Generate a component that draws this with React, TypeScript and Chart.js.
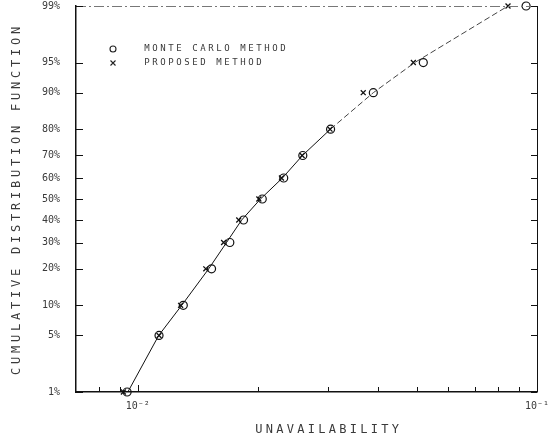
import React, { useEffect, useRef } from "react";
import { Chart, registerables } from "chart.js";

Chart.register(...registerables);

// ---- Data ----
const percentiles = [1, 5, 10, 20, 30, 40, 50, 60, 70, 80, 90, 95, 99];
const monteCarlo = [0.0094, 0.0113, 0.0130, 0.0153, 0.0170, 0.0184, 0.0205, 0.0232, 0.0259, 0.0304, 0.0389, 0.0519, 0.0939];
const proposed = [0.0092, 0.0113, 0.0128, 0.0148, 0.0164, 0.0179, 0.0201, 0.0229, 0.0258, 0.0303, 0.0367, 0.0490, 0.0846];
const curve = [0.00944, 0.01128, 0.01288, 0.01505, 0.01668, 0.0182, 0.02029, 0.02303, 0.02585, 0.03038, 0.0389, 0.0494, 0.0846];
const yTickPercents = [1, 5, 10, 20, 30, 40, 50, 60, 70, 80, 90, 95, 99];
const xTickValues = [0.008, 0.009, 0.01, 0.02, 0.03, 0.04, 0.05, 0.06, 0.07, 0.08, 0.09, 0.1];
const xTickLabels: Record<string, string> = { "0.01": "10\u207B\u00B2", "0.1": "10\u207B\u00B9" };
const legendLabels = ["MONTE CARLO METHOD", "PROPOSED METHOD"];
const xTitle = "UNAVAILABILITY";
const yTitle = "CUMULATIVE DISTRIBUTION FUNCTION";

// inverse standard normal CDF (Acklam) -> probability-paper axis
function probit(p: number): number {
  const a = [-39.69683028665376, 220.9460984245205, -275.9285104469687, 138.357751867269, -30.66479806614716, 2.506628277459239];
  const b = [-54.47609879822406, 161.5858368580409, -155.6989798598866, 66.80131188771972, -13.28068155288572];
  const c = [-0.007784894002430293, -0.3223964580411365, -2.400758277161838, -2.549732539343734, 4.374664141464968, 2.938163982698783];
  const d = [0.007784695709041462, 0.3224671290700398, 2.445134137142996, 3.754408661907416];
  const pl = 0.02425;
  let q: number, r: number;
  if (p < pl) {
    q = Math.sqrt(-2 * Math.log(p));
    return (((((c[0] * q + c[1]) * q + c[2]) * q + c[3]) * q + c[4]) * q + c[5]) / ((((d[0] * q + d[1]) * q + d[2]) * q + d[3]) * q + 1);
  }
  if (p > 1 - pl) {
    q = Math.sqrt(-2 * Math.log(1 - p));
    return -(((((c[0] * q + c[1]) * q + c[2]) * q + c[3]) * q + c[4]) * q + c[5]) / ((((d[0] * q + d[1]) * q + d[2]) * q + d[3]) * q + 1);
  }
  q = p - 0.5;
  r = q * q;
  return ((((((a[0] * r + a[1]) * r + a[2]) * r + a[3]) * r + a[4]) * r + a[5]) * q) / (((((b[0] * r + b[1]) * r + b[2]) * r + b[3]) * r + b[4]) * r + 1);
}

const TEXT = "#3a3a3a";
const MONO = "'DejaVu Sans Mono', 'Liberation Mono', monospace";

function spacedText(ctx: CanvasRenderingContext2D, s: string, cx: number, cy: number, step: number) {
  const start = cx - (s.length * step) / 2 + step / 2;
  for (let i = 0; i < s.length; i++) ctx.fillText(s[i], start + i * step, cy);
}

function zeroPad(s: any) {
  s.paddingTop = 0;
  s.paddingBottom = 0;
  s.paddingLeft = 0;
  s.paddingRight = 0;
}

const decorPlugin = {
  id: "decor",
  afterDraw(chart: any) {
    const { ctx, chartArea, scales } = chart;
    const { left, right, top, bottom } = chartArea;
    const xs = scales.x, ys = scales.y;
    ctx.save();
    // right border
    ctx.strokeStyle = "#111";
    ctx.lineWidth = 1;
    ctx.beginPath();
    ctx.moveTo(right + 0.5, top);
    ctx.lineTo(right + 0.5, bottom);
    ctx.stroke();
    // top border (faint dashed)
    ctx.strokeStyle = "#777";
    ctx.setLineDash([10, 3, 2, 3]);
    ctx.beginPath();
    ctx.moveTo(left, top + 0.5);
    ctx.lineTo(right, top + 0.5);
    ctx.stroke();
    ctx.setLineDash([]);
    // inner y ticks (both sides)
    ctx.strokeStyle = "#111";
    yTickPercents.forEach((p) => {
      const y = Math.round(ys.getPixelForValue(probit(p / 100))) + 0.5;
      ctx.beginPath();
      ctx.moveTo(left, y);
      ctx.lineTo(left + 7, y);
      ctx.moveTo(right, y);
      ctx.lineTo(right - 6, y);
      ctx.stroke();
    });
    // inner x ticks
    xTickValues.forEach((v) => {
      const x = Math.round(xs.getPixelForValue(v)) + 0.5;
      const len = xTickLabels[String(v)] ? 7 : 5;
      ctx.beginPath();
      ctx.moveTo(x, bottom);
      ctx.lineTo(x, bottom - len);
      ctx.stroke();
    });
    // legend
    const rows = [
      { y: 49, kind: "circle", label: legendLabels[0] },
      { y: 63, kind: "cross", label: legendLabels[1] },
    ];
    ctx.font = `9px ${MONO}`;
    ctx.textAlign = "center";
    ctx.textBaseline = "middle";
    rows.forEach((r) => {
      ctx.strokeStyle = "#222";
      ctx.lineWidth = 1.1;
      ctx.beginPath();
      if (r.kind === "circle") {
        ctx.arc(113, r.y, 3, 0, Math.PI * 2);
      } else {
        ctx.moveTo(110.5, r.y - 2.5);
        ctx.lineTo(115.5, r.y + 2.5);
        ctx.moveTo(115.5, r.y - 2.5);
        ctx.lineTo(110.5, r.y + 2.5);
      }
      ctx.stroke();
      ctx.fillStyle = TEXT;
      const step = 8;
      for (let i = 0; i < r.label.length; i++) ctx.fillText(r.label[i], 147 + i * step, r.y);
    });
    // axis titles
    ctx.font = `12px ${MONO}`;
    ctx.fillStyle = TEXT;
    spacedText(ctx, xTitle, 327, 430, 10.5);
    ctx.translate(17, 201);
    ctx.rotate(-Math.PI / 2);
    spacedText(ctx, yTitle, 0, 0, 11);
    ctx.restore();
  },
};

export default function App() {
  const ref = useRef<HTMLCanvasElement>(null);
  useEffect(() => {
    document.body.style.margin = "0";
    const yData = percentiles.map((p) => probit(p / 100));
    const chart = new Chart(ref.current!, {
      type: "scatter",
      data: {
        datasets: [
          {
            label: legendLabels[0],
            data: monteCarlo.map((x, i) => ({ x, y: yData[i] })),
            pointStyle: "circle",
            pointRadius: 4,
            borderColor: "#111",
            backgroundColor: "rgba(0,0,0,0)",
            borderWidth: 1.2,
            showLine: false,
            clip: false,
          },
          {
            label: legendLabels[1],
            data: proposed.map((x, i) => ({ x, y: yData[i] })),
            pointStyle: "crossRot",
            pointRadius: 3.5,
            borderColor: "#111",
            borderWidth: 1.3,
            showLine: false,
            clip: false,
          },
          {
            label: "curve",
            data: curve.map((x, i) => ({ x, y: yData[i] })),
            pointRadius: 0,
            showLine: true,
            borderColor: "#111",
            borderWidth: 1,
            segment: {
              borderDash: (c: any) => (c.p0DataIndex >= 9 ? [6, 3] : undefined),
              borderColor: (c: any) => (c.p0DataIndex >= 9 ? "#444" : "#111"),
            },
            clip: false,
          },
        ],
      },
      options: {
        responsive: false,
        animation: false,
        layout: { padding: { left: 0, top: 6, right: 14, bottom: 0 } },
        plugins: { legend: { display: false }, tooltip: { enabled: false }, title: { display: false } },
        scales: {
          x: {
            type: "logarithmic",
            min: 0.007,
            max: 0.1,
            afterFit: (s: any) => { s.height = 49; zeroPad(s); },
            afterBuildTicks: (s: any) => { s.ticks = xTickValues.map((v) => ({ value: v })); },
            grid: { display: false, drawTicks: false },
            border: { display: true, color: "#111", width: 1.5 },
            ticks: {
              autoSkip: false,
              maxRotation: 0,
              padding: 8,
              color: TEXT,
              font: { family: MONO, size: 10 },
              callback: (v: any) => xTickLabels[String(v)] ?? "",
            },
          },
          y: {
            type: "linear",
            min: probit(0.01),
            max: probit(0.99),
            afterFit: (s: any) => { s.width = 76; zeroPad(s); },
            afterBuildTicks: (s: any) => { s.ticks = yTickPercents.map((p) => ({ value: probit(p / 100) })); },
            grid: { display: false, drawTicks: false },
            border: { display: true, color: "#111", width: 1.5 },
            ticks: {
              autoSkip: false,
              padding: 16,
              color: TEXT,
              font: { family: MONO, size: 10 },
              callback: (_v: any, i: number) => `${yTickPercents[i]}%`,
            },
          },
        },
      },
      plugins: [decorPlugin],
    } as any);
    return () => chart.destroy();
  }, []);
  return <canvas ref={ref} width={551} height={441} style={{ display: "block" }} />;
}
